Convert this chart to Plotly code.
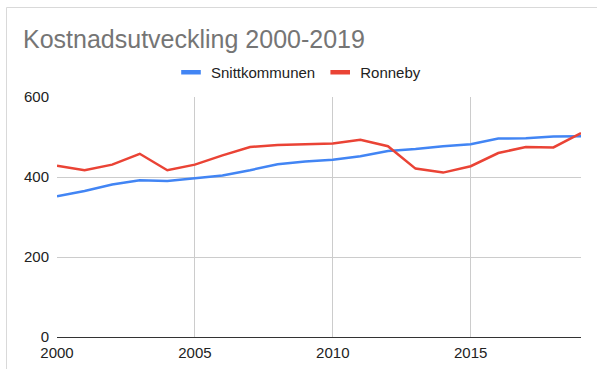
from plotly import graph_objects as go

years = list(range(2000, 2020))
snittkommunen = [352, 365, 381, 392, 390, 397, 404, 417, 432, 439,
                 443, 452, 465, 470, 477, 482, 496, 497, 501, 502]
ronneby = [428, 417, 431, 458, 417, 431, 454, 475, 480, 482,
           484, 493, 477, 421, 411, 427, 460, 475, 474, 510]
y_ticks = [0, 200, 400, 600]
x_ticks = [2000, 2005, 2010, 2015]

colors = ["#4285F4", "#EA4335"]
names = ["Snittkommunen", "Ronneby"]
FONT = "Liberation Sans, Arial, sans-serif"

W, H = 597, 369
L, R, T, B = 57, 16, 97, 32

figure = go.Figure()

for i, series in enumerate([snittkommunen, ronneby]):
    figure.add_trace(
        go.Scatter(
            x=years,
            y=series,
            mode="lines",
            line=dict(color=colors[i], width=2.5),
            showlegend=False,
            hoverinfo="x+y",
            name=names[i],
        )
    )
    # legend entry drawn as a short bar, like the original
    figure.add_trace(
        go.Scatter(
            x=[None],
            y=[None],
            mode="markers",
            name=names[i],
            marker=dict(
                symbol="line-ew-open",
                size=14,
                color=colors[i],
                line=dict(color=colors[i], width=4.5),
            ),
            showlegend=True,
        )
    )

plot_w = W - L - R
plot_h = H - T - B
figure.add_shape(
    type="rect",
    xref="paper",
    yref="paper",
    x0=(6.5 - L) / plot_w,
    x1=(W + 10 - L) / plot_w,
    y0=-(B + 10) / plot_h,
    y1=(H - B - 7.5) / plot_h,
    line=dict(color="#d9d9d9", width=1),
    fillcolor="rgba(0,0,0,0)",
    layer="below",
)

figure.update_layout(
    width=W,
    height=H,
    margin=dict(l=L, r=R, t=T, b=B, autoexpand=False),
    paper_bgcolor="white",
    plot_bgcolor="white",
    font=dict(family=FONT, size=15, color="#222222"),
    title=dict(
        text="Kostnadsutveckling 2000-2019",
        font=dict(family=FONT, size=25, color="#757575"),
        xref="container",
        yref="container",
        x=23 / W,
        xanchor="left",
        y=1 - 30 / H,
        yanchor="top",
    ),
    legend=dict(
        orientation="h",
        xref="container",
        yref="container",
        x=0.5,
        xanchor="center",
        y=1 - 56 / H,
        yanchor="top",
        font=dict(family=FONT, size=15, color="#222222"),
        itemwidth=30,
        tracegroupgap=0,
    ),
    showlegend=True,
)

figure.update_xaxes(
    range=[2000, 2019],
    tickvals=x_ticks,
    ticktext=[str(v) for v in x_ticks],
    showgrid=True,
    gridcolor="#cccccc",
    gridwidth=1,
    zeroline=False,
    showline=False,
    ticks="outside",
    ticklen=2,
    tickcolor="rgba(0,0,0,0)",
    automargin=False,
    tickfont=dict(family=FONT, size=15, color="#222222"),
)
figure.update_yaxes(
    range=[0, 600],
    tickvals=y_ticks,
    showgrid=True,
    gridcolor="#cccccc",
    gridwidth=1,
    zeroline=True,
    zerolinecolor="#333333",
    zerolinewidth=1,
    showline=False,
    ticks="outside",
    ticklen=4,
    tickcolor="rgba(0,0,0,0)",
    automargin=False,
    tickfont=dict(family=FONT, size=15, color="#222222"),
)

# drop the browser's default 8px body margin so the chart sits at the page corner
figure.write_html(
    "out.html",
    config={"displayModeBar": False},
    post_script="document.body.style.margin = '0';",
)
